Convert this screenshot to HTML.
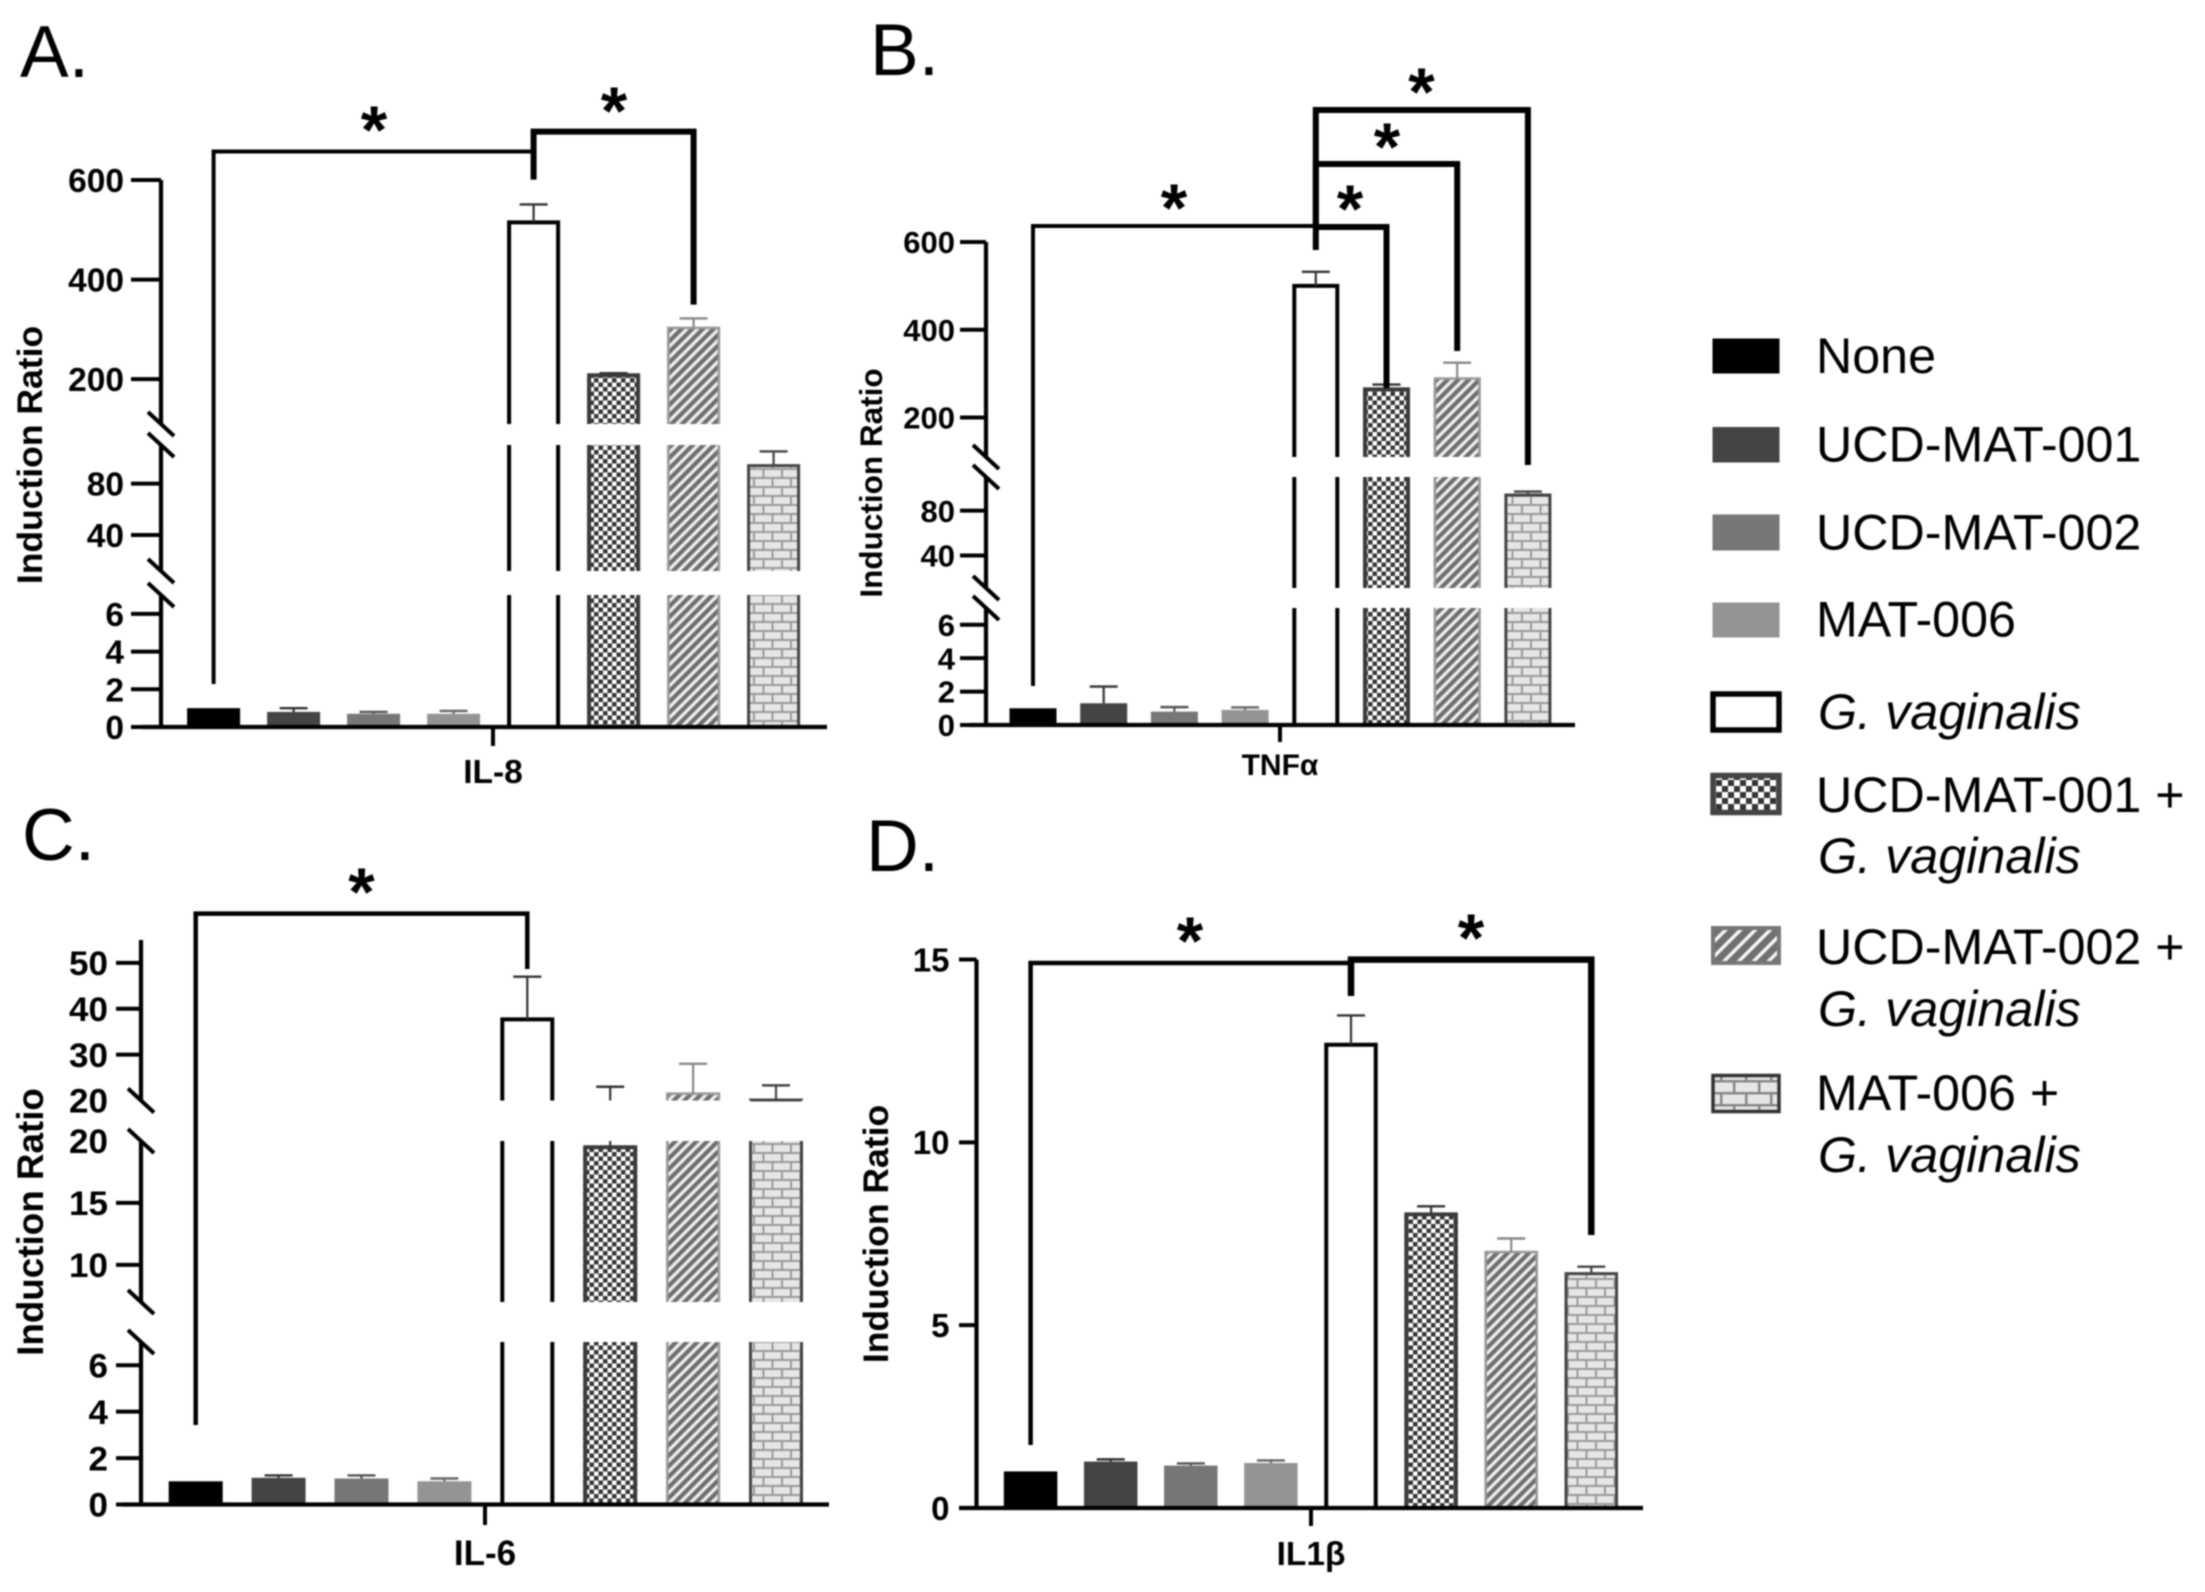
<!DOCTYPE html>
<html lang="en">
<head>
<meta charset="utf-8">
<title>Induction Ratio bar charts</title>
<style>
html,body{margin:0;padding:0;background:#fff;}
svg{display:block;filter:blur(0.7px);font-family:"Liberation Sans",sans-serif;}
.leg{font-size:50.2px;fill:#000;}
.it{font-style:italic;font-size:50.3px;}
.letter{font-size:73px;fill:#000;}
</style>
</head>
<body>
<svg id="chart" xmlns="http://www.w3.org/2000/svg" width="2205" height="1592" viewBox="0 0 2205 1592">
<defs>
  <pattern id="checker" width="9" height="9" patternUnits="userSpaceOnUse">
    <rect width="9" height="9" fill="#fff"/><rect width="4.5" height="4.5" fill="#363636"/><rect x="4.5" y="4.5" width="4.5" height="4.5" fill="#363636"/>
  </pattern>
  <pattern id="hatch" width="7.5" height="7.5" patternUnits="userSpaceOnUse" patternTransform="rotate(-45)">
    <rect width="7.5" height="7.5" fill="#eee"/><rect width="7.5" height="4.2" fill="#6e6e6e"/>
  </pattern>
  <pattern id="brick" width="37" height="18" patternUnits="userSpaceOnUse">
    <rect width="37" height="18" fill="#e6e6e6"/>
    <rect y="0" width="37" height="2" fill="#999"/><rect y="9" width="37" height="2" fill="#999"/>
    <rect x="4" y="0" width="2" height="9" fill="#999"/><rect x="22.5" y="0" width="2" height="9" fill="#999"/>
    <rect x="13" y="9" width="2" height="9" fill="#999"/><rect x="31.5" y="9" width="2" height="9" fill="#999"/>
  </pattern>
  <pattern id="checkerL" width="12" height="12" patternUnits="userSpaceOnUse">
    <rect width="12" height="12" fill="#fff"/><rect width="6" height="6" fill="#333"/><rect x="6" y="6" width="6" height="6" fill="#333"/>
  </pattern>
  <pattern id="hatchL" width="10.5" height="10.5" patternUnits="userSpaceOnUse" patternTransform="rotate(-45)">
    <rect width="10.5" height="10.5" fill="#f4f4f4"/><rect width="10.5" height="7" fill="#707070"/>
  </pattern>
  <pattern id="brickL" width="50" height="24" patternUnits="userSpaceOnUse">
    <rect width="50" height="24" fill="#e6e6e6"/>
    <rect width="50" height="2.5" fill="#888"/><rect y="12" width="50" height="2.5" fill="#888"/>
    <rect x="8" width="2.5" height="12" fill="#888"/><rect x="33" width="2.5" height="12" fill="#888"/>
    <rect x="20" y="12" width="2.5" height="12" fill="#888"/><rect x="45" y="12" width="2.5" height="12" fill="#888"/>
  </pattern>
</defs>

<text class="letter" x="20" y="77">A.</text>
<text class="letter" x="870" y="75">B.</text>
<text class="letter" x="22" y="860">C.</text>
<text class="letter" x="866" y="871">D.</text>

<g>
  <g>
    <rect x="1712.5" y="338.5" width="67" height="35" fill="#000"/>
    <text class="leg" x="1816" y="373">None</text>
  </g>
  <g>
    <rect x="1712.5" y="427" width="67" height="35.5" fill="#444"/>
    <text class="leg" x="1816" y="461.5">UCD-MAT-001</text>
  </g>
  <g>
    <rect x="1712.5" y="514.5" width="67" height="36" fill="#777"/>
    <text class="leg" x="1816" y="549.5">UCD-MAT-002</text>
  </g>
  <g>
    <rect x="1712.5" y="602.5" width="67" height="35" fill="#949494"/>
    <text class="leg" x="1816" y="636.5">MAT-006</text>
  </g>
  <g>
    <rect x="1713" y="694" width="66" height="36" fill="#fff" stroke="#000" stroke-width="5.5"/>
    <text class="leg it" x="1818" y="729">G. vaginalis</text>
  </g>
  <g>
    <rect x="1713" y="775.5" width="66" height="37" fill="url(#checkerL)" stroke="#444" stroke-width="5.5"/>
    <text class="leg" x="1816" y="812">UCD-MAT-001 +</text>
    <text class="leg it" x="1818" y="873">G. vaginalis</text>
  </g>
  <g>
    <rect x="1713" y="928" width="66" height="35" fill="url(#hatchL)" stroke="#777" stroke-width="4"/>
    <text class="leg" x="1816" y="964">UCD-MAT-002 +</text>
    <text class="leg it" x="1818" y="1026">G. vaginalis</text>
  </g>
  <g>
    <rect x="1713" y="1075.5" width="66" height="36" fill="url(#brickL)" stroke="#333" stroke-width="3.5"/>
    <text class="leg" x="1816" y="1110">MAT-006 +</text>
    <text class="leg it" x="1818" y="1172">G. vaginalis</text>
  </g>
</g>
</svg>

<script>
// ---- chart data ----
const categories = ['None','UCD-MAT-001','UCD-MAT-002','MAT-006','G. vaginalis','UCD-MAT-001 + G. vaginalis','UCD-MAT-002 + G. vaginalis','MAT-006 + G. vaginalis'];

const il8Values  = [1, 0.8, 0.7, 0.7, 515, 208, 303, 94];
const il8Errors  = [1, 1.0, 0.8, 0.85, 551, 212, 322, 105];
const il8Domains = [[0,7],[12,110],[110,600]];
const il8Ticks   = [[0,2,4,6],[40,80],[200,400,600]];

const tnfValues  = [1, 1.3, 0.8, 0.9, 500, 264, 289, 94];
const tnfErrors  = [1, 2.3, 1.07, 1.05, 532, 275, 325, 97];
const tnfDomains = [[0,7],[11,110],[110,600]];
const tnfTicks   = [[0,2,4,6],[40,80],[200,400,600]];

const il6Values  = [1, 1.15, 1.12, 1.0, 37.7, 19.5, 21.5, 20.1];
const il6Errors  = [1, 1.25, 1.25, 1.12, 47, 23, 28, 23.3];
const il6Domains = [[0,7],[7,20],[20,55]];
const il6Ticks   = [[0,2,4,6],[10,15,20],[20,30,40,50]];

const il1Values  = [1, 1.27, 1.16, 1.23, 12.67, 8.03, 7.0, 6.41];
const il1Errors  = [1, 1.33, 1.22, 1.3, 13.47, 8.25, 7.37, 6.6];
const il1Domains = [[0,15]];
const il1Ticks   = [[0,5,10,15]];

// ---- layout and style ----
const fills   = ['#000','#444','#777','#949494','#fff','url(#checker)','url(#hatch)','url(#brick)'];
const strokes = ['none','none','none','none','#000','#3a3a3a','#999','#444'];
const strokeW = [0,0,0,0,4,4,2.5,3];
const errCols = ['#000','#333','#555','#666','#333','#333','#888','#444'];

const panels = [
  {id:'a', cat:'IL-8', values:il8Values, errors:il8Errors, domains:il8Domains, ticks:il8Ticks,
   ranges:[[727,595],[571,445],[424,180]], axisX:161, tickL:131, labelR:124, font:33.5, sx:1,
   xFrom:142, xTo:827, x0:213.6, step:80, barW:53, tickX:493, tickB:746, catY:783, catFont:33.5,
   titleX:42, titleY:455, titleFont:35.5,
   brackets:[[0,4,151.5,684,151.5,4],[4,6,131.6,179.6,304.6,6]],
   stars:[[374,121],[614,102]]},
  {id:'b', cat:'TNFα', values:tnfValues, errors:tnfErrors, domains:tnfDomains, ticks:tnfTicks,
   ranges:[[725,608],[588,477],[457,242]], axisX:986, tickL:960, labelR:955, font:31, sx:1,
   xFrom:970, xTo:1575, x0:1033, step:70.7, barW:47, tickX:1280, tickB:742, catY:775, catFont:30,
   titleX:882, titleY:483, titleFont:31.5,
   brackets:[[0,4,226,686,226,4],[4,5,227,250,388,6],[4,6,164,227,351,6],[4,7,110,227,465,6]],
   stars:[[1174,199],[1350,200],[1387,138],[1421.5,83]]},
  {id:'c', cat:'IL-6', values:il6Values, errors:il6Errors, domains:il6Domains, ticks:il6Ticks,
   ranges:[[1504.5,1342],[1302,1141],[1100.5,940]], axisX:141, tickL:116, labelR:108, font:34, sx:1.03,
   xFrom:122, xTo:829, x0:195.7, step:82.9, barW:54, tickX:485, tickB:1525, catY:1565, catFont:35,
   titleX:43, titleY:1222, titleFont:36.8,
   brackets:[[0,4,913.6,1425,969,4.5]],
   stars:[[361.5,883]]},
  {id:'d', cat:'IL1β', values:il1Values, errors:il1Errors, domains:il1Domains, ticks:il1Ticks,
   ranges:[[1508,959.5]], axisX:976.5, tickL:959, labelR:949.5, font:33, sx:1,
   xFrom:959, xTo:1643, x0:1030.6, step:80.1, barW:53.5, tickX:1311, tickB:1526, catY:1565, catFont:33.5,
   titleX:888, titleY:1234, titleFont:35.5,
   brackets:[[0,4,963,1445,963,4.5],[4,7,959.6,996,1235,6.5]],
   stars:[[1190,932],[1471,929]]}
];

const NS = 'http://www.w3.org/2000/svg';
const root = document.getElementById('chart');
function mk(tag, attrs, parent){
  const el = document.createElementNS(NS, tag);
  for (const k in attrs) el.setAttribute(k, attrs[k]);
  parent.appendChild(el);
  return el;
}
function segScale(domain, range){
  return v => range[0] + (v - domain[0]) * (range[1] - range[0]) / (domain[1] - domain[0]);
}

panels.forEach(p => {
  const g = mk('g', {}, root);
  
  
  const scales = p.domains.map((d, i) => segScale(d, p.ranges[i]));
  const xPos = i => p.x0 + i * p.step;

  // bars, drawn segment by segment across the axis breaks
  p.values.forEach((v, i) => {
    const cx = xPos(i), hw = p.barW / 2;
    const ih = hw - strokeW[i] / 2;
    const bar = mk('g', {}, g);
    
    
    p.domains.forEach((d, s) => {
      if (v <= d[0]) return;
      const yb = scales[s](d[0]);
      const yt = scales[s](Math.min(v, d[1]));
      const r = mk('rect', {x:cx - hw, y:yt, width:p.barW, height:yb - yt, fill:fills[i]}, bar);
      
      
      if (strokeW[i] > 0) {
        const capped = v <= d[1];
        const dPath = capped
          ? 'M' + (cx - ih) + ' ' + yb + 'V' + yt + 'H' + (cx + ih) + 'V' + yb
          : 'M' + (cx - ih) + ' ' + yb + 'V' + yt + 'M' + (cx + ih) + ' ' + yt + 'V' + yb;
        const o = mk('path', {d:dPath, fill:'none', stroke:strokes[i], 'stroke-width':strokeW[i]}, bar);
        
        
      }
    });
    // error bar
    const e = p.errors[i];
    if (e > v) {
      p.domains.forEach((d, s) => {
        const lo = Math.max(v, d[0]), hi = Math.min(e, d[1]);
        if (hi <= lo) return;
        const l = mk('line', {x1:cx, x2:cx, y1:scales[s](lo), y2:scales[s](hi), stroke:errCols[i], 'stroke-width':2.2}, bar);
        
        
        if (e <= d[1]) {
          const c = mk('line', {x1:cx - 14, x2:cx + 14, y1:scales[s](e), y2:scales[s](e), stroke:errCols[i], 'stroke-width':2.4}, bar);
          
          
        }
      });
    }
  });

  // y axis segments, breaks, ticks, labels
  p.domains.forEach((d, s) => {
    const ax = mk('line', {x1:p.axisX, x2:p.axisX, y1:p.ranges[s][0], y2:p.ranges[s][1], stroke:'#000', 'stroke-width':4.2}, g);
    
    
    if (p.domains.length > 1) {
      p.ranges[s].forEach((yy, k) => {
        if ((s === 0 && k === 0) || (s === p.domains.length - 1 && k === 1)) return;
        const b = mk('line', {x1:p.axisX - 13, x2:p.axisX + 13, y1:yy - 12, y2:yy + 12, stroke:'#000', 'stroke-width':4}, g);
        
        
      });
    }
    p.ticks[s].forEach(t => {
      const y = scales[s](t);
      const onBreak = p.domains.length > 1 && (t === d[0] || t === d[1]) && !(s === 0 && t === 0);
      if (!onBreak || p.id === 'a' || p.id === 'b') {
        const tk = mk('line', {x1:p.tickL, x2:p.axisX, y1:y, y2:y, stroke:'#000', 'stroke-width':4}, g);
        
        
      }
      const lab = mk('text', {'font-size':p.font, 'font-weight':'bold', 'text-anchor':'end',
        transform:'translate(' + p.labelR + ' ' + (y + p.font * 0.36) + ') scale(' + p.sx + ' 1)'}, g);
      
      
      lab.textContent = String(t);
    });
  });

  // x axis
  const base = p.ranges[0][0];
  const xa = mk('line', {x1:p.xFrom, x2:p.xTo, y1:base, y2:base, stroke:'#000', 'stroke-width':4.2}, g);
  
  
  const xt = mk('line', {x1:p.tickX, x2:p.tickX, y1:base, y2:p.tickB, stroke:'#000', 'stroke-width':4}, g);
  
  
  const cl = mk('text', {x:p.tickX, y:p.catY, 'font-size':p.catFont, 'font-weight':'bold', 'text-anchor':'middle'}, g);
  
  
  cl.textContent = p.cat;

  // y title
  const tt = mk('text', {'font-size':p.titleFont, 'font-weight':'bold', 'text-anchor':'middle',
    transform:'translate(' + p.titleX + ' ' + p.titleY + ') rotate(-90)'}, g);
  
  
  tt.textContent = 'Induction Ratio';

  // significance brackets: from-bar, to-bar, level, left end, right end, weight
  p.brackets.forEach(b => {
    const xa0 = xPos(b[0]), xb0 = xPos(b[1]);
    const path = mk('path', {d:'M' + xa0 + ' ' + b[3] + 'V' + b[2] + 'H' + xb0 + 'V' + b[4],
      fill:'none', stroke:'#000', 'stroke-width':b[5]}, g);
    
    
  });
  p.stars.forEach(s => {
    const st = mk('text', {x:s[0], y:s[1] + 32, 'font-size':68, 'font-weight':'bold', 'text-anchor':'middle'}, g);
    
    
    st.textContent = '*';
  });
});
</script>
</body>
</html>
